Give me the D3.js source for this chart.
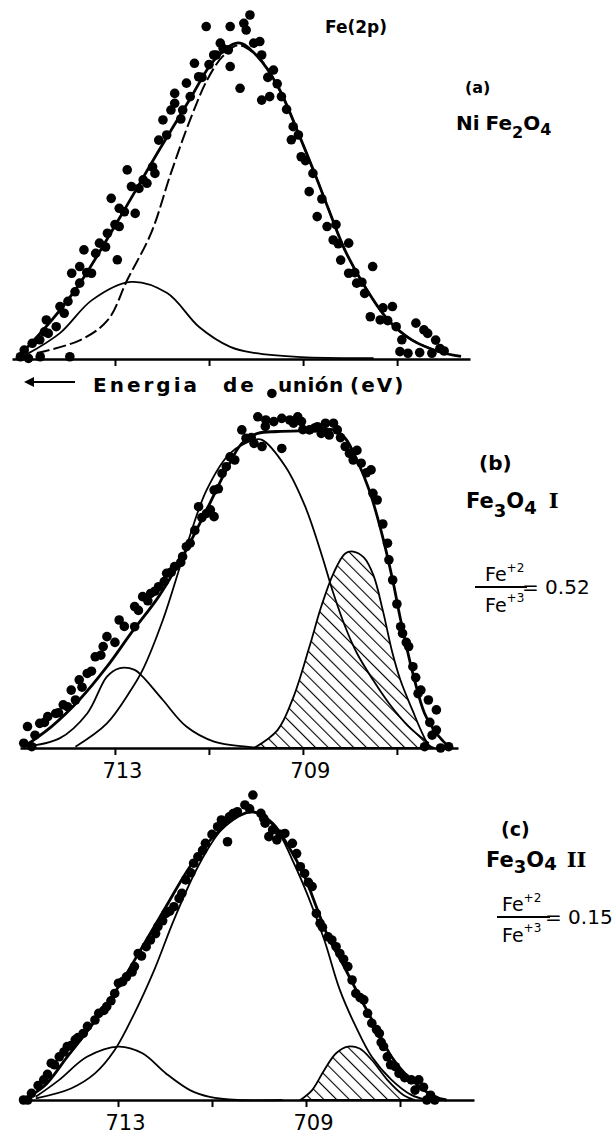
<!DOCTYPE html>
<html>
<head>
<meta charset="utf-8">
<script src="https://cdn.jsdelivr.net/npm/d3@7"></script>
<style>
  body { margin: 0; background: #fff; }
  svg { display: block; }
  text { font-family: "DejaVu Sans", "Liberation Sans", sans-serif; fill: #000; }
  .roman { font-family: "DejaVu Serif", "Liberation Serif", serif; }
</style>
</head>
<body>
<svg id="chart" width="616" height="1146"></svg>
<script>
// Fe(2p) XPS spectra: binding energy (eV) vs intensity (arbitrary units, 0-100)

const tickValues = [713, 711, 709, 707];
const tickLabels = ["713", "", "709", ""];

// ---- (a) NiFe2O4 ----
const aPoints = [
  [711.06,103.9],[710.55,103.9],[710.26,104.9],[710.13,107.5],[710.21,102.8],[710.76,98.7],
  [710.59,96.6],[710.85,95.0],[710.55,91.4],[710.34,84.6],[710.05,98.7],[709.92,99.2],
  [709.88,95.0],[709.63,90.3],[709.88,80.9],[709.71,82.0],[709.46,82.0],[709.21,72.6],
  [709.25,68.5],[709.04,63.2],[708.79,58.0],[708.87,52.3],[708.70,44.5],[708.49,41.4],
  [708.36,37.2],[708.03,36.2],[708.20,30.9],[708.03,26.8],[707.86,23.7],[707.52,28.9],
  [707.69,20.5],[707.57,13.2],[707.36,12.2],[707.10,16.4],[707.02,10.1],[706.60,11.2],
  [706.43,9.1],[706.35,8.0],[706.18,5.9],[706.94,2.3],[706.77,1.8],[706.52,2.0],
  [706.26,1.8],[706.09,3.3],
  [711.31,92.4],[711.48,86.2],[711.22,88.2],[711.73,83.0],[711.81,77.8],[711.56,77.8],
  [711.98,74.7],[711.73,79.9],[712.07,68.4],[712.15,58.0],[712.32,54.9],[712.49,53.3],
  [712.74,59.1],[712.65,53.9],[712.57,45.5],[713.08,50.2],[712.91,47.1],[712.91,41.4],
  [713.16,39.3],[713.33,36.2],[713.66,34.1],[713.41,33.0],[713.75,28.9],[713.50,26.8],
  [713.92,26.8],[713.75,23.7],[712.95,31.0],[714.17,16.4],[714.08,14.3],[714.25,10.1],
  [714.46,12.2],[714.42,8.0],[714.76,4.9],[714.93,2.8],[715.01,0.7],[714.84,0.2],
  [714.59,0.7],[713.96,0.7],
  [714.60,6.0],[714.50,8.5],[714.00,18.0],[713.85,21.0],[713.60,27.0],[713.20,35.0],
  [713.00,42.0],[712.80,46.0],[712.40,56.0],[712.20,60.0],[711.90,70.0],[711.60,75.0],
  [711.40,82.0],[711.15,88.0],[711.00,92.0],[710.90,95.0],[710.70,97.0],
  [709.75,88.0],[709.55,86.0],[709.35,78.0],[709.10,70.0],[708.95,62.0],[708.60,50.0],
  [708.30,42.0],[708.25,36.0],[707.90,27.0],[707.75,24.0],[707.30,16.0],[707.20,12.0],
  [706.90,6.0],[706.00,2.5]
];
const aTotal = [
  [715.10,0],[714.34,12.2],[713.74,23.8],[712.89,44.4],[712.06,65.3],[711.38,81.9],
  [710.89,93.4],[710.38,98.8],[709.96,94.4],[709.53,85.0],[709.04,68.4],[708.70,56.0],
  [708.45,46.5],[708.11,34.0],[707.68,22.5],[707.19,12.2],[706.68,5.9],[706.09,2.2],[705.64,0.8]
];
const aMain = [
  [714.66,1.9],[713.74,5.9],[713.15,12.2],[712.74,24.7],[712.23,39.4],[711.81,58.1],
  [711.38,75.6],[711.04,87.2],[710.72,94.4],[710.38,98.1],[709.96,94.4],[709.53,85.0],
  [709.04,68.4],[708.70,56.0],[708.45,46.5],[708.11,34.0],[707.68,22.5],[707.19,12.2],
  [706.68,5.9],[706.09,2.2]
];
const aSat = [
  [714.91,1.2],[714.17,8.1],[713.49,18.4],[712.66,24.1],[711.89,20.6],[711.21,10.0],
  [710.55,3.8],[710.04,1.9],[709.04,0.6],[707.50,0.3]
];

// ---- (b) Fe3O4 I ----
const bPoints = [
  [709.66,110.8],[709.96,103.5],[709.79,102.5],[709.62,102.0],[709.45,103.0],[709.28,102.5],
  [709.11,103.5],[709.03,102.0],[710.30,99.4],[710.21,96.8],[710.04,95.2],[709.87,94.2],
  [709.45,93.6],[708.86,99.4],[708.69,100.4],[708.52,101.5],[708.35,101.5],[708.27,99.4],
  [708.61,98.3],[708.44,97.8],[708.10,94.2],[708.01,92.1],[707.93,90.0],[707.76,89.0],
  [707.55,86.9],[707.51,79.6],[707.42,77.5],[707.17,58.8],[707.09,52.5],[706.92,37.9],
  [706.88,35.8],[706.75,31.7],[706.66,25.4],[706.49,18.1],[706.33,15.0],[706.16,11.9],
  [706.16,5.6],[706.07,0],[706.41,0.4],[705.90,0.4],
  [710.55,91.0],[710.63,87.9],[710.72,85.8],[710.89,80.6],[710.97,74.4],[711.05,73.3],
  [710.89,72.3],[711.22,75.4],[711.48,62.9],[711.56,59.8],[711.73,56.7],[711.90,54.6],
  [712.07,50.4],[712.24,48.3],[712.41,47.3],[712.58,44.2],[712.58,37.9],[712.91,40.0],
  [713.17,34.8],[713.25,31.7],[713.42,28.5],[713.59,23.3],[713.76,21.3],[713.93,18.1],
  [713.84,15.0],[714.01,12.9],[714.26,10.8],[714.43,9.8],[714.60,7.7],[714.86,6.7],
  [714.94,1.5],[714.77,0.4],
  [714.70,4.0],[714.50,8.0],[714.20,11.0],[714.10,13.5],[713.70,19.0],[713.50,24.0],
  [713.30,29.0],[713.00,33.0],[712.80,38.0],[712.50,43.0],[712.30,46.0],[712.15,49.0],
  [711.95,52.0],[711.80,55.0],[711.60,58.0],[711.40,64.0],[711.30,68.0],[711.15,72.0],
  [710.80,81.0],[710.45,90.0],[710.10,97.0],[709.80,100.5],[709.20,101.5],[709.00,99.5],
  [708.75,100.0],[708.55,99.0],[708.20,97.0],[707.85,93.0],[707.65,86.0],[707.30,70.0],
  [707.20,64.0],[707.00,45.0],[706.80,33.0],[706.60,22.0],[706.55,17.0],[706.30,8.0],
  [706.25,4.0]
];
const bTotal = [
  [714.94,0.4],[714.35,6.7],[713.76,15.0],[713.17,25.4],[712.66,35.8],[712.07,47.3],
  [711.56,59.8],[711.05,74.4],[710.63,86.9],[710.30,95.2],[709.96,98.3],[709.54,98.9],
  [708.86,99.2],[708.35,99.4],[708.10,96.8],[707.85,90.0],[707.59,80.6],[707.34,68.1],
  [707.09,52.5],[706.92,40.0],[706.66,23.3],[706.41,10.8],[706.16,4.6],[705.90,0.4]
];
const bSat = [
  [714.94,0.4],[714.18,3.0],[713.59,10.8],[713.17,22.3],[712.91,24.9],[712.58,24.4],
  [712.41,22.3],[711.98,15.0],[711.48,6.7],[710.89,2.0],[710.21,0.4],[709.80,0]
];
const bFe3 = [
  [713.84,0.4],[713.17,7.7],[712.66,18.1],[712.41,24.4],[711.98,40.0],[711.48,62.9],
  [711.05,80.6],[710.55,92.1],[710.04,96.3],[709.87,96.3],[709.37,87.9],[708.95,75.4],
  [708.61,60.8],[708.35,48.3],[708.10,37.9],[707.85,29.6],[707.51,21.3],[707.17,14.0],
  [706.75,6.7],[706.32,1.5]
];
const bFe2 = [
  [710.04,0],[709.54,5.6],[709.20,16.0],[708.86,31.7],[708.61,44.2],[708.35,54.6],
  [708.10,60.8],[707.93,61.4],[707.70,59.5],[707.50,54.0],[707.30,43.0],[707.10,30.0],
  [706.92,21.0],[706.66,11.5],[706.49,5.6],[706.32,0.9],[706.20,0]
];

// ---- (c) Fe3O4 II ----
const cPoints = [
  [710.13,95.3],[710.30,92.2],[710.46,90.1],[710.63,88.5],[710.80,87.5],[709.96,89.6],
  [709.87,86.5],[709.71,84.4],[709.62,81.3],[709.79,82.3],[709.45,83.3],[709.29,80.2],
  [709.12,72.9],[709.03,70.8],[708.87,66.7],[708.78,58.3],[708.70,55.2],[708.53,51.0],
  [708.36,47.9],[708.28,45.8],[708.11,41.7],[708.02,37.5],[707.94,33.3],[707.77,31.3],
  [707.69,27.1],[707.60,24.0],[707.44,20.8],[707.35,16.7],[707.27,13.5],[707.10,10.4],
  [707.02,8.3],[706.76,6.3],[706.68,3.1],[706.60,6.3],[706.43,0],[706.26,0],
  [710.88,85.4],[711.14,80.2],[711.30,76.0],[711.39,74.0],[711.56,68.8],[711.64,64.6],
  [711.81,60.4],[711.98,58.3],[712.15,54.2],[712.31,50.0],[712.40,47.9],[712.57,45.8],
  [712.65,41.7],[712.82,38.5],[712.99,36.5],[713.07,33.3],[713.24,29.2],[713.41,27.1],
  [713.49,25.0],[713.74,20.8],[713.91,18.8],[714.08,16.7],[714.25,13.5],[714.42,11.5],
  [714.58,6.3],[714.84,2.1],[715.01,0],[714.92,0],[710.67,80.7],
  [714.70,4.5],[714.50,8.0],[714.35,11.0],[714.15,15.0],[714.00,17.0],[713.85,19.5],
  [713.65,23.0],[713.30,28.0],[713.15,31.0],[712.90,37.0],[712.70,40.0],[712.50,45.0],
  [712.20,52.0],[712.05,56.0],[711.90,59.0],[711.70,63.0],[711.45,71.0],[711.20,78.0],
  [711.00,83.0],[710.75,87.0],[710.55,89.5],[710.20,91.0],[709.90,88.0],[709.55,83.0],
  [709.20,77.0],[708.95,68.0],[708.65,54.0],[708.45,50.0],[708.20,44.0],[707.85,32.0],
  [707.50,22.0],[707.40,18.0],[707.20,11.0],[706.90,7.0],[706.50,4.0],[706.35,1.5]
];
const cTotal = [
  [715.05,0],[714.58,4.2],[714.08,13.5],[713.58,22.9],[712.99,35.4],[712.48,47.9],
  [711.98,60.4],[711.47,72.9],[710.97,82.3],[710.46,88.5],[710.13,90.1],[709.71,86.5],
  [709.37,79.2],[709.03,69.8],[708.78,60.4],[708.53,51.0],[708.19,41.7],[707.86,32.3],
  [707.52,22.9],[707.18,13.5],[706.76,6.3],[706.26,1.0],[706.01,0]
];
const cSat = [
  [714.75,1.0],[714.25,6.3],[713.66,13.5],[712.99,16.7],[712.48,14.6],[711.98,8.3],
  [711.47,3.1],[711.05,1.0],[710.46,0],[709.50,0]
];
const cFe3 = [
  [714.75,0.5],[714.00,3.6],[713.49,8.3],[713.07,15.6],[712.65,27.1],[712.23,40.6],
  [711.81,56.3],[711.30,72.9],[710.80,84.4],[710.30,89.6],[710.04,89.6],[709.62,84.4],
  [709.29,75.0],[708.95,63.5],[708.61,50.0],[708.28,34.4],[707.94,22.9],[707.60,13.5],
  [707.18,6.3],[706.76,1.6],[706.43,0]
];
const cFe2 = [
  [709.12,0],[708.87,3.1],[708.61,9.4],[708.36,14.6],[708.11,16.7],[707.86,16.1],
  [707.60,12.5],[707.27,6.3],[706.93,1.6],[706.68,0]
];

const panels = [
  { id: "a", base: 359, x0: 12, x1: 470, e0: 715.19, e1: 705.45, labels: false,
    points: aPoints, total: aTotal, fe3: aMain, sat: aSat, fe2: null, dashedFe3: true },
  { id: "b", base: 748, x0: 20, x1: 458, e0: 715.02, e1: 705.70, labels: true,
    points: bPoints, total: bTotal, fe3: bFe3, sat: bSat, fe2: bFe2, dashedFe3: false },
  { id: "c", base: 1100, x0: 20, x1: 474, e0: 713 + 98 / 47, e1: 713 - 356 / 47, labels: true,
    points: cPoints, total: cTotal, fe3: cFe3, sat: cSat, fe2: cFe2, dashedFe3: false }
];

const svg = d3.select("#chart");

// diagonal hatching for the Fe2+ component
const defs = svg.append("defs");
const pat = defs.append("pattern")
  .attr("id", "hatch")
  .attr("patternUnits", "userSpaceOnUse")
  .attr("width", 9).attr("height", 9)
  .attr("patternTransform", "rotate(-45)");
pat.append("line")
  .attr("x1", 0).attr("y1", 0).attr("x2", 0).attr("y2", 9)
  .attr("stroke", "#000").attr("stroke-width", 2.2);

panels.forEach(p => {
  const x = d3.scaleLinear().domain([p.e0, p.e1]).range([p.x0, p.x1]);
  const y = d3.scaleLinear().domain([0, 100]).range([p.base, p.base - 320]);
  const g = svg.append("g").attr("class", "panel-" + p.id);

  const line = d3.line()
    .x(d => x(d[0])).y(d => y(d[1]))
    .curve(d3.curveCatmullRom.alpha(0.5));
  const area = d3.area()
    .x(d => x(d[0])).y0(y(0)).y1(d => y(d[1]))
    .curve(d3.curveCatmullRom.alpha(0.5));

  if (p.fe2) {
    g.append("path").datum(p.fe2)
      .attr("d", area).attr("fill", "url(#hatch)")
      .attr("stroke", "#000").attr("stroke-width", 1.8);
  }
  g.append("path").datum(p.sat)
    .attr("d", line).attr("fill", "none")
    .attr("stroke", "#000").attr("stroke-width", 1.8);
  g.append("path").datum(p.fe3)
    .attr("d", line).attr("fill", "none")
    .attr("stroke", "#000").attr("stroke-width", p.dashedFe3 ? 2 : 1.8)
    .attr("stroke-dasharray", p.dashedFe3 ? "13,4" : null);
  g.append("path").datum(p.total)
    .attr("d", line).attr("fill", "none")
    .attr("stroke", "#000").attr("stroke-width", 2.8);

  g.append("g").selectAll("circle").data(p.points).join("circle")
    .attr("cx", d => x(d[0])).attr("cy", d => y(d[1]))
    .attr("r", 4.8).attr("fill", "#000");

  const axis = d3.axisBottom(x)
    .tickValues(tickValues)
    .tickSize(7)
    .tickPadding(8)
    .tickSizeOuter(0)
    .tickFormat((d, i) => p.labels ? tickLabels[i] : "");
  const ag = g.append("g").attr("transform", `translate(0,${p.base})`).call(axis);
  ag.select(".domain").attr("stroke-width", 2.4);
  ag.selectAll(".tick line").attr("stroke-width", 2);
  ag.selectAll(".tick text")
    .attr("font-size", 21).attr("dx", 7)
    .style("font-family", "'DejaVu Sans', sans-serif");
});

// ---- annotations ----
const txt = (sx, sy, size, weight) => svg.append("text")
  .attr("x", sx).attr("y", sy).attr("font-size", size).attr("font-weight", weight || "bold");

txt(325, 33, 17).text("Fe(2p)");
txt(465, 93, 16).text("(a)");
{
  const t = txt(456, 130, 20);
  t.append("tspan").text("Ni");
  t.append("tspan").attr("dx", 6).text("Fe");
  t.append("tspan").attr("dy", 8).attr("font-size", 16).text("2");
  t.append("tspan").attr("dy", -8).text("O");
  t.append("tspan").attr("dy", 5).attr("font-size", 16).text("4");
}

// binding energy arrow and caption
svg.append("line").attr("x1", 30).attr("x2", 75).attr("y1", 382).attr("y2", 382)
  .attr("stroke", "#000").attr("stroke-width", 2.2);
svg.append("path").attr("d", "M24,382 L34,377 L34,387 Z").attr("fill", "#000");
{
  const cap = svg.append("text").attr("y", 392).attr("font-size", 20).attr("font-weight", "bold");
  cap.append("tspan").attr("x", 93).attr("letter-spacing", 3).text("Energia");
  cap.append("tspan").attr("x", 223).attr("letter-spacing", 3).text("de");
  cap.append("tspan").attr("x", 278).attr("letter-spacing", 0.5).text("unión");
  cap.append("tspan").attr("x", 350).attr("letter-spacing", 2).text("(eV)");
}

txt(479, 470, 20).text("(b)");
{
  const t = txt(466, 508, 21);
  t.append("tspan").text("Fe");
  t.append("tspan").attr("dy", 9).attr("font-size", 18).text("3");
  t.append("tspan").attr("dy", -9).text("O");
  t.append("tspan").attr("dy", 6).attr("font-size", 18).text("4");
  t.append("tspan").attr("dy", -6).attr("dx", 12).attr("class", "roman").text("I");
}
// Fe+2 / Fe+3 ratio
function ratio(cx, lineY, x1, x2, value, vx) {
  const num = svg.append("text").attr("x", cx).attr("y", lineY - 6).attr("font-size", 19);
  num.append("tspan").text("Fe");
  num.append("tspan").attr("dy", -9).attr("font-size", 12).text("+2");
  const den = svg.append("text").attr("x", cx).attr("y", lineY + 25).attr("font-size", 19);
  den.append("tspan").text("Fe");
  den.append("tspan").attr("dy", -10).attr("font-size", 12).text("+3");
  svg.append("line").attr("x1", x1).attr("x2", x2).attr("y1", lineY).attr("y2", lineY)
    .attr("stroke", "#000").attr("stroke-width", 2);
  svg.append("text").attr("x", vx).attr("y", lineY + 7).attr("font-size", 20)
    .text("= " + value);
}
ratio(485, 587, 475, 527, "0.52", 522);

txt(501, 836, 19).text("(c)");
{
  const t = txt(486, 867, 21);
  t.append("tspan").text("Fe");
  t.append("tspan").attr("dy", 6).attr("font-size", 18).text("3");
  t.append("tspan").attr("dy", -6).text("O");
  t.append("tspan").attr("dy", 3).attr("font-size", 18).text("4");
  t.append("tspan").attr("dy", -3).attr("dx", 10).attr("class", "roman").text("II");
}
ratio(502, 917, 497, 550, "0.15", 545);
</script>
</body>
</html>
